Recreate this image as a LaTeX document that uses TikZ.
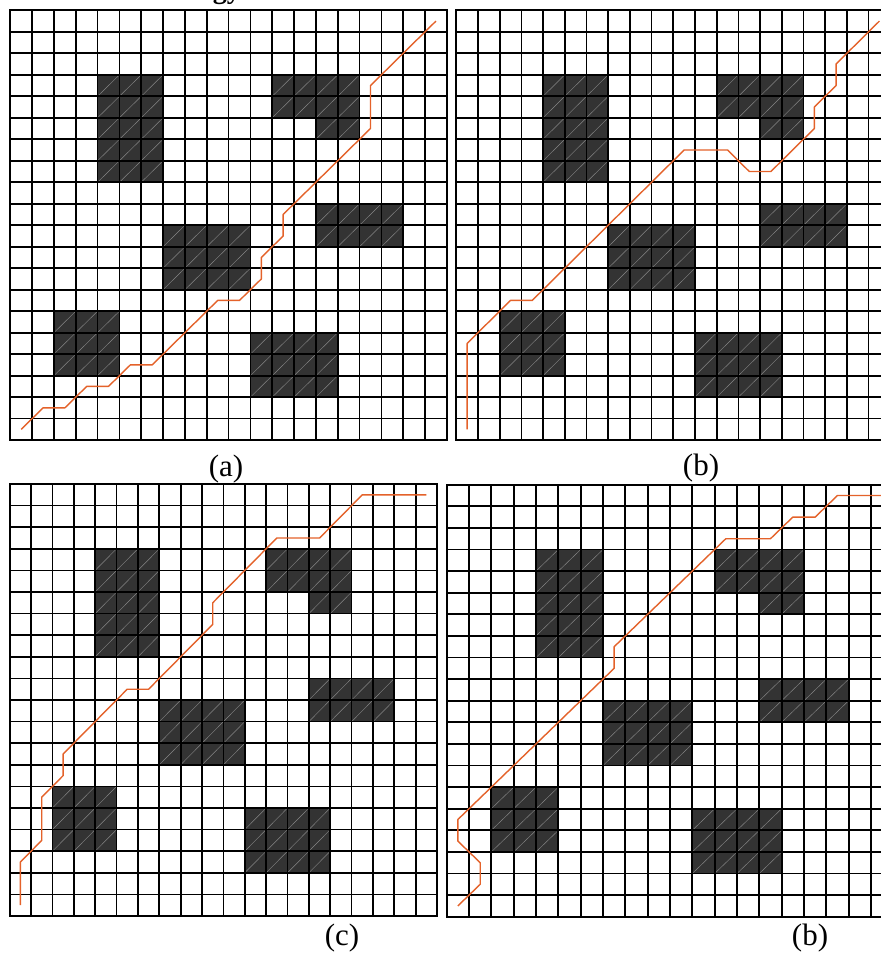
\documentclass[tikz,border=0pt]{standalone}
\usepackage{fontspec}
\setmainfont{Liberation Serif}
\definecolor{obsgray}{RGB}{51,51,51}
\definecolor{diaggray}{RGB}{135,135,135}
\definecolor{routeorange}{RGB}{228,98,42}
\tikzset{
  gridline/.style={black, line width=1.75pt},
  frameline/.style={black, line width=2.2pt},
  obsfill/.style={fill=obsgray},
  obsdiag/.style={diaggray, line width=0.45pt},
  route/.style={routeorange, line width=1.4pt, line join=round},
  caption/.style={font=\fontsize{31}{36}\selectfont, anchor=base, inner sep=0pt},
}
\newcommand{\myobst}[4]{%
  \fill[obsfill] (#1,#2) rectangle ({#3+1},{#4+1});
  \foreach \cc in {#1,...,#3}{\foreach \rr in {#2,...,#4}{\draw[obsdiag] (\cc,{\rr+1}) -- ({\cc+1},\rr);}}%
}
\newcommand{\mylayout}{%
  \myobst{4}{3}{6}{7}
  \myobst{12}{3}{15}{4}
  \myobst{14}{5}{15}{5}
  \myobst{14}{9}{17}{10}
  \myobst{7}{10}{10}{12}
  \myobst{2}{14}{4}{16}
  \myobst{11}{15}{14}{17}
  \foreach \i in {0,...,20}{\draw[gridline] (\i,0) -- (\i,20); \draw[gridline] (0,\i) -- (20,\i);}
  \draw[frameline] (0,0) rectangle (20,20);
}
\begin{document}
\begin{tikzpicture}[x=1pt,y=-1pt]
\useasboundingbox (0,0) rectangle (881,956);
\clip (0,0) rectangle (881,956);
\fill[white] (0,0) rectangle (881,956);
% panel (a)
\begin{scope}[shift={(10.3,10.3)}, x=21.83pt, y=-21.49pt]
\mylayout
\draw[route, shift={(0.5,0.5)}] (0,19) -- (1,18) -- (2,18) -- (3,17) -- (4,17) -- (5,16) -- (6,16) -- (9,13) -- (10,13) -- (11,12) -- (11,11) -- (12,10) -- (12,9) -- (16,5) -- (16,3) -- (19,0);
\end{scope}
% panel (b) top
\begin{scope}[shift={(456.3,10.3)}, x=21.7pt, y=-21.49pt]
\mylayout
\draw[route, shift={(0.5,0.5)}] (0,19) -- (0,15) -- (2,13) -- (3,13) -- (10,6) -- (12,6) -- (13,7) -- (14,7) -- (16,5) -- (16,4) -- (17,3) -- (17,2) -- (19,0);
\end{scope}
% panel (c)
\begin{scope}[shift={(9.7,484)}, x=21.37pt, y=-21.6pt]
\mylayout
\draw[route, shift={(0.5,0.5)}] (0,19) -- (0,17) -- (1,16) -- (1,14) -- (2,13) -- (2,12) -- (5,9) -- (6,9) -- (9,6) -- (9,5) -- (12,2) -- (14,2) -- (16,0) -- (19,0);
\end{scope}
% panel (b) bottom
\begin{scope}[shift={(446.7,484.7)}, x=22.33pt, y=-21.6pt]
\mylayout
\draw[route, shift={(0.5,0.5)}] (0,19) -- (1,18) -- (1,17) -- (0,16) -- (0,15) -- (7,8) -- (7,7) -- (12,2) -- (14,2) -- (15,1) -- (16,1) -- (17,0) -- (19,0);
\end{scope}
\node[caption] (capa) at (226,476) {(a)};
\node[caption] (capb) at (701,475) {(b)};
\node[caption] (capc) at (342,945) {(c)};
\node[caption] (capd) at (810,945) {(b)};
\node[font=\bfseries\fontsize{28}{30}\selectfont, anchor=base east, inner sep=0pt] (toptext) at (241,-1.5) {ogy};
\end{tikzpicture}
\end{document}
